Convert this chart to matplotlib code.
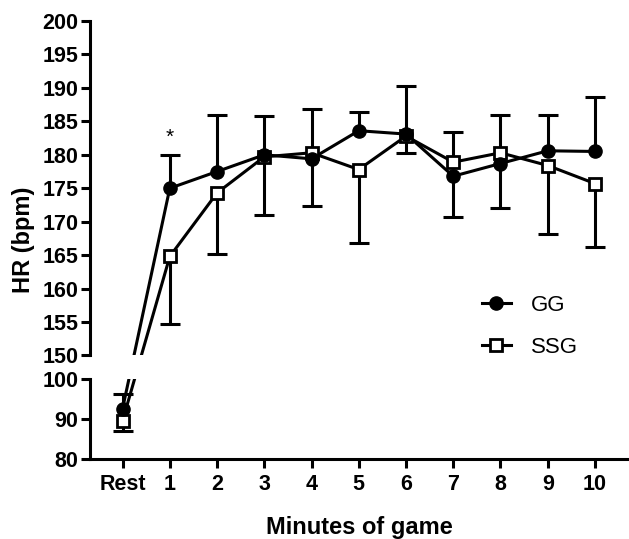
import numpy as np
import matplotlib
matplotlib.use('agg')
import matplotlib.pyplot as plt
from matplotlib.lines import Line2D
from matplotlib.patches import Rectangle
import matplotlib.transforms as mtransforms

plt.rcParams['font.family'] = ['Liberation Sans', 'DejaVu Sans']

# data
minutes = ['Rest', '1', '2', '3', '4', '5', '6', '7', '8', '9', '10']
gg = [92.5, 175.0, 177.5, 180.0, 179.4, 183.6, 183.1, 176.8, 178.7, 180.6, 180.5]
ssg = [89.5, 164.8, 174.3, 179.7, 180.3, 177.8, 182.8, 178.9, 180.3, 178.4, 175.7]
gg_sd = [3.7, 4.9, 8.5, 5.8, 7.0, 2.8, 7.2, 6.1, 6.7, 5.4, 8.2]
ssg_sd = [2.5, 10.1, 9.1, 8.7, 6.5, 11.0, 2.5, 4.5, 5.7, 10.3, 9.5]
ytick_vals = [80, 90, 100, 150, 155, 160, 165, 170, 175, 180, 185, 190, 195, 200]

x = np.arange(len(minutes))
gg = np.array(gg)
ssg = np.array(ssg)
gg_sd = np.array(gg_sd)
ssg_sd = np.array(ssg_sd)

# broken y scale: 80-100 and 150-200, small gap between
def fwd(v):
    v = np.asarray(v, dtype=float)
    return np.where(v <= 100, (v - 80) * 4.03,
                    np.where(v < 150, 80.6 + (v - 100) * 0.46, 103.6 + (v - 150) * 6.68))

def inv(u):
    u = np.asarray(u, dtype=float)
    return np.where(u <= 80.6, u / 4.03 + 80,
                    np.where(u < 103.6, (u - 80.6) / 0.46 + 100, (u - 103.6) / 6.68 + 150))

fig = plt.figure(figsize=(6.29, 5.39), dpi=100)
ax = fig.add_axes([0.143, 0.148, 0.857, 0.813])
ax.set_yscale('function', functions=(fwd, inv))
ax.set_ylim(80, 200)
ax.set_xlim(-0.69, 10.72)

lw = 2.2
top_frac = float(fwd(200))
lo_cut = float(fwd(100)) / top_frac
hi_cut = float(fwd(150)) / top_frac

# connecting lines, clipped so they stop at the break
for lo, hi in [(0, lo_cut), (hi_cut, 1.0)]:
    for ys in (ssg, gg):
        ln, = ax.plot(x, ys, color='black', lw=lw, zorder=2)
        clip = Rectangle((0, lo), 1, hi - lo, transform=ax.transAxes)
        ln.set_clip_path(clip)

# one-sided error bars: the higher group gets the upper bar
gg_hi = gg >= ssg
sign_gg = np.where(gg_hi, 1, -1)
for ys, sd, sgn in [(gg, gg_sd, sign_gg), (ssg, ssg_sd, -sign_gg)]:
    ends = ys + sgn * sd
    ax.vlines(x, ys, ends, color='black', lw=lw, zorder=2)
    ax.plot(x, ends, ls='none', marker='_', ms=14, mew=lw, color='black', zorder=2)

ax.plot(x, ssg, ls='none', marker='s', ms=9, mfc='white', mec='black', mew=2, zorder=3)
ax.plot(x, gg, ls='none', marker='o', ms=9.5, mfc='black', mec='black', zorder=4)

ax.text(1, 182.6, '*', ha='center', va='center', fontsize=15)

# axes styling
for s in ['top', 'right', 'left']:
    ax.spines[s].set_visible(False)
ax.spines['bottom'].set_linewidth(lw)
trans = mtransforms.blended_transform_factory(ax.transAxes, ax.transData)
for seg in ([80, 100], [150, 200]):
    ax.plot([0, 0], seg, transform=trans, color='black', lw=lw, clip_on=False,
            solid_capstyle='projecting', zorder=5)

ax.set_yticks(ytick_vals)
ax.set_yticklabels([str(v) for v in ytick_vals])
ax.set_xticks(x)
ax.set_xticklabels(minutes)
ax.tick_params(axis='both', width=lw, length=6.5, labelsize=15.5)
ax.tick_params(axis='y', pad=2)
ax.tick_params(axis='x', pad=4)
for lab in ax.get_xticklabels() + ax.get_yticklabels():
    lab.set_fontweight('bold')
ax.minorticks_off()

ax.set_xlabel('Minutes of game', fontsize=17, fontweight='bold', labelpad=15)
ax.set_ylabel('HR (bpm)', fontsize=17, fontweight='bold', labelpad=5)

handles = [Line2D([], [], color='black', lw=lw, marker='o', ms=9.5, mfc='black'),
           Line2D([], [], color='black', lw=lw, marker='s', ms=9, mfc='white', mew=2)]
ax.legend(handles, ['GG', 'SSG'], loc='upper left', bbox_to_anchor=(0.727, 0.375),
          frameon=False, fontsize=16, handlelength=1.3, handletextpad=0.9,
          labelspacing=0.95, borderpad=0, borderaxespad=0)

fig.savefig('out.png', dpi=100)
